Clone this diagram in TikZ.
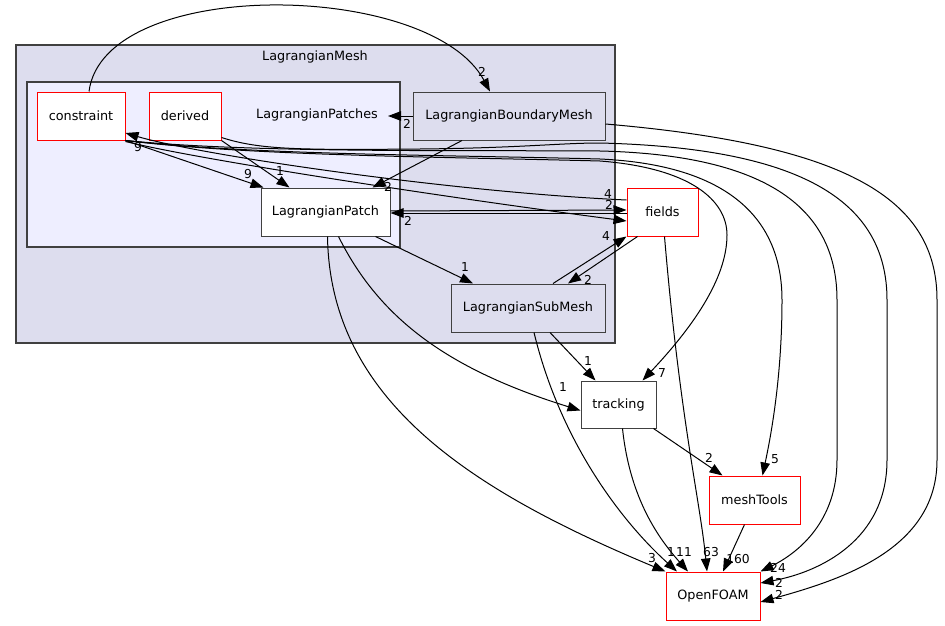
\documentclass[tikz,border=0pt]{standalone}
\usepackage{fontspec}
\setmainfont{DejaVu Sans}
\usetikzlibrary{arrows.meta}
\definecolor{grey25}{HTML}{404040}
\definecolor{clusterA}{HTML}{DDDDEE}
\definecolor{clusterB}{HTML}{EEEEFF}
\definecolor{nodered}{HTML}{FF0000}
\begin{document}
\begin{tikzpicture}[x=1pt,y=-1pt,
  txt/.style={inner sep=0pt, font=\fontsize{12.8}{15}\selectfont},
  cluster/.style={draw=grey25, line width=1.2pt, inner sep=0pt},
  dirbox/.style={draw=grey25, line width=1pt, fill=white, inner sep=0pt, minimum height=48pt, font=\fontsize{12.8}{15}\selectfont},
  redbox/.style={dirbox, draw=nodered},
  subbox/.style={dirbox, fill=clusterA},
  edge/.style={draw=black, line width=1pt, -{Triangle[length=13pt,width=9.5pt]}},
  lbl/.style={inner sep=0pt, font=\fontsize{12.3}{14}\selectfont}
]
\useasboundingbox (0,0) rectangle (945,626);

% clusters
\node[cluster, fill=clusterA, minimum width=599pt, minimum height=298pt] (LagrangianMesh) at (315.5,194) {};
\node[txt] (LagrangianMeshLabel) at (315,57) {LagrangianMesh};
\node[cluster, fill=clusterB, minimum width=373pt, minimum height=165pt] (LagrangianPatches) at (213.5,164.5) {};
\node[txt] (LagrangianPatchesLabel) at (317,115) {LagrangianPatches};
\coordinate (patchesIn) at (388,116);

% nodes
\node[redbox, minimum width=88pt] (constraint) at (81,116) {constraint};
\node[redbox, minimum width=72pt] (derived) at (185,116) {derived};
\node[subbox, minimum width=192pt] (LBM) at (509,116) {LagrangianBoundaryMesh};
\node[dirbox, minimum width=129pt] (LP) at (325.5,212) {LagrangianPatch};
\node[subbox, minimum width=154pt] (LSM) at (528,308) {LagrangianSubMesh};
\node[redbox, minimum width=71pt] (fields) at (662.5,212) {fields};
\node[dirbox, minimum width=75pt, minimum height=47pt] (tracking) at (618.5,404.5) {tracking};
\node[redbox, minimum width=91pt] (meshTools) at (754.5,500) {meshTools};
\node[redbox, minimum width=94pt] (OpenFOAM) at (713,596) {OpenFOAM};

% edges
\draw[edge] ([xshift=8pt]constraint.north) .. controls (104,-24) and (430,-20) .. ([xshift=-19pt]LBM.north);
\draw[edge] (LBM.west) -- (patchesIn);
\draw[edge] ([xshift=-47pt]LBM.south) -- ([xshift=47pt]LP.north);
\draw[edge] ([yshift=-8pt]LBM.east) .. controls (850,145) and (937,200) .. (937,300) -- (937,460) .. controls (937,550) and (840,580) .. ([yshift=-6pt]OpenFOAM.east);
\draw[edge] ([yshift=3pt]derived.south east) .. controls (260,150) and (300,150) .. (420,149) .. controls (520,148) and (560,143) .. (600,143) .. controls (800,148) and (887,200) .. (887,300) -- (887,460) .. controls (887,540) and (820,572) .. ([yshift=13pt]OpenFOAM.east);
\draw[edge] (constraint.south east) .. controls (250,153) and (450,150) .. (600,151) .. controls (770,155) and (837,210) .. (837,300) -- (837,460) .. controls (837,520) and (800,552) .. (OpenFOAM.north east);
\draw[edge] (constraint.south east) .. controls (250,155) and (450,155) .. (600,159) .. controls (730,165) and (782,220) .. (782,300) .. controls (782,380) and (770,440) .. ([xshift=8pt]meshTools.north);
\draw[edge] (constraint.south east) .. controls (250,156) and (450,157) .. (600,161) .. controls (690,168) and (727,200) .. (727,235) .. controls (727,280) and (690,330) .. ([xshift=24pt]tracking.north);
\draw[edge] ([yshift=-1pt]constraint.south east) .. controls (200,160) and (450,198) .. ([yshift=-9pt]fields.west);
\draw[edge] ([yshift=12pt]fields.west) .. controls (450,192) and (200,155) .. ([yshift=-17pt]constraint.east);
\draw[edge] ([yshift=1pt]LP.east) -- ([yshift=2pt]fields.west);
\draw[edge] ([yshift=-1pt]fields.west) -- ([yshift=-1pt]LP.east);
\draw[edge] ([xshift=25pt]LSM.north) -- (fields.south west);
\draw[edge] ([xshift=-25pt]fields.south) -- ([xshift=40pt]LSM.north);
\draw[edge] ([xshift=50pt]LP.south) -- ([xshift=-55pt]LSM.north);
\draw[edge] ([xshift=2pt]LP.south) .. controls (330,400) and (470,490) .. (OpenFOAM.north west);
\draw[edge] ([xshift=13pt]LP.south) .. controls (380,320) and (450,370) .. ([yshift=-6pt]tracking.west);
\draw[edge] ([xshift=22pt]LSM.south) -- ([xshift=-23pt]tracking.north);
\draw[edge] ([xshift=6pt]LSM.south) .. controls (560,440) and (620,520) .. ([xshift=-36pt]OpenFOAM.north);
\draw[edge] ([xshift=4pt]tracking.south) .. controls (630,500) and (660,540) .. ([xshift=-25pt]OpenFOAM.north);
\draw[edge] ([xshift=2pt]fields.south) .. controls (680,420) and (700,500) .. ([xshift=-6pt]OpenFOAM.north);
\draw[edge] ([xshift=-10pt]meshTools.south) -- ([xshift=10pt]OpenFOAM.north);
\draw[edge] ([xshift=-3pt]tracking.south east) -- ([xshift=-32pt]meshTools.north);
\draw[edge] (constraint.south east) -- ([xshift=-62pt]LP.north);
\draw[edge] (derived.south east) -- ([xshift=-36pt]LP.north);

% edge labels
\node[lbl] (l1) at (482,72) {2};
\node[lbl] (l2) at (407,124) {2};
\node[lbl] (l3) at (388,187) {2};
\node[lbl] (l4) at (779,595) {2};
\node[lbl] (l5) at (779,583) {2};
\node[lbl] (l6) at (778,568) {24};
\node[lbl] (l7) at (775,459) {5};
\node[lbl] (l8) at (662,373) {7};
\node[lbl] (l9) at (608,194) {4};
\node[lbl] (l10) at (138,147) {9};
\node[lbl] (l11) at (609,205) {2};
\node[lbl] (l12) at (408,221) {2};
\node[lbl] (l13) at (606,236) {4};
\node[lbl] (l14) at (588,280) {2};
\node[lbl] (l15) at (465,267) {1};
\node[lbl] (l16) at (652,558) {3};
\node[lbl] (l17) at (563,387) {1};
\node[lbl] (l18) at (588,361) {1};
\node[lbl] (l19) at (671,552) {1};
\node[lbl] (l20) at (684,552) {11};
\node[lbl] (l21) at (711,552) {63};
\node[lbl] (l22) at (738,559) {160};
\node[lbl] (l23) at (709,458) {2};
\node[lbl] (l24) at (248,174) {9};
\node[lbl] (l25) at (280,171) {1};
\end{tikzpicture}
\end{document}
